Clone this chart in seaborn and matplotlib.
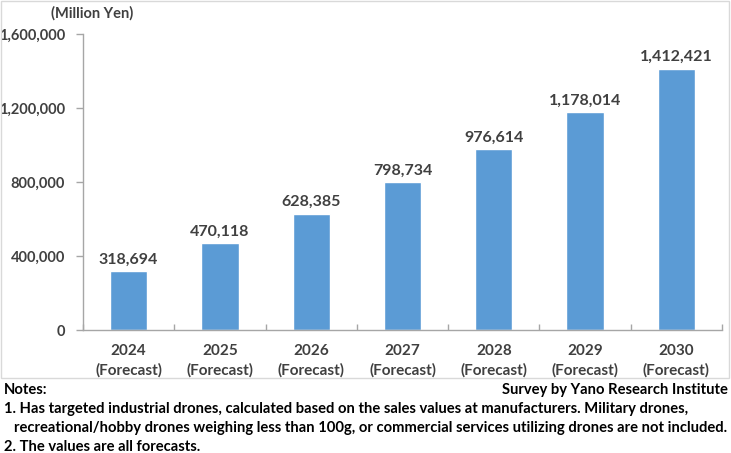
import numpy as np
import pandas as pd
import matplotlib
matplotlib.use("Agg")
import matplotlib.pyplot as plt
import seaborn as sns
from matplotlib.patches import Rectangle

# Chart data
years = ["2024", "2025", "2026", "2027", "2028", "2029", "2030"]
tick_labels = [y + "\n(Forecast)" for y in years]
market_size = [318694, 470118, 628385, 798734, 976614, 1178014, 1412421]
y_ticks = [0, 400000, 800000, 1200000, 1600000]

df = pd.DataFrame({"year": years, "value": market_size})

sns.set_style("white")
plt.rcParams['font.family'] = ['Lato', 'DejaVu Sans']
text_color = "#404040"
axis_color = "#a6a6a6"

fig = plt.figure(figsize=(7.31, 4.53), dpi=100)
ax = fig.add_axes([83 / 731, 1 - 330 / 453, (722 - 83) / 731, (330 - 34) / 453])

sns.barplot(data=df, x="year", y="value", color="#5b9bd5", width=0.41,
            saturation=1, ax=ax)

ax.set_ylim(0, 1600000)
ax.set_xlim(-0.5, len(years) - 0.5)
ax.set_yticks(y_ticks)
ax.set_yticklabels([f"{v:,}" for v in y_ticks], fontsize=10.5, fontweight="bold",
                   color=text_color)
ax.set_xticks(range(len(years)))
ax.set_xticklabels(tick_labels, fontsize=11, fontweight="bold", color=text_color,
                   linespacing=1.45)
ax.set_xlabel("")
ax.set_ylabel("")

for side in ["top", "right"]:
    ax.spines[side].set_visible(False)
for side in ["left", "bottom"]:
    ax.spines[side].set_color(axis_color)
    ax.spines[side].set_linewidth(1)

ax.tick_params(axis="y", direction="out", length=5, width=1, color=axis_color, pad=8, left=True)
ax.tick_params(axis="x", length=0, pad=10, bottom=True)
# category boundary ticks on the x axis
ax.set_xticks(np.arange(-0.5, len(years), 1), minor=True)
ax.tick_params(axis="x", which="minor", direction="in", length=4, width=1, color=axis_color,
               bottom=True)

for i, v in enumerate(market_size):
    ax.text(i, v + 25000, f"{v:,}", ha="center", va="bottom", fontsize=11.5,
            fontweight="bold", color=text_color)

ax.text(0.014, 1.045, "(Million Yen)", transform=ax.transAxes, ha="center", va="bottom",
        fontsize=10.5, fontweight="bold", color=text_color)

# chart frame
fig.patches.append(Rectangle((1 / 731, 1 - 378 / 453), 728 / 731, 377 / 453,
                             transform=fig.transFigure, fill=False,
                             edgecolor="#d9d9d9", linewidth=1))

note_size = 10.6
fig.text(4 / 731, 1 - 390 / 453, "Notes:", ha="left", va="center", fontsize=note_size,
         fontweight="bold", color="black")
fig.text(728 / 731, 1 - 390 / 453, "Survey by Yano Research Institute", ha="right",
         va="center", fontsize=note_size, fontweight="bold", color="black")
fig.text(4 / 731, 1 - 409 / 453,
         "1. Has targeted industrial drones, calculated based on the sales values at manufacturers. Military drones,",
         ha="left", va="center", fontsize=note_size, fontweight="bold", color="black")
fig.text(14 / 731, 1 - 428 / 453,
         "recreational/hobby drones weighing less than 100g, or commercial services utilizing drones are not included.",
         ha="left", va="center", fontsize=note_size, fontweight="bold", color="black")
fig.text(4 / 731, 1 - 447 / 453, "2. The values are all forecasts.", ha="left",
         va="center", fontsize=note_size, fontweight="bold", color="black")

fig.savefig("out.png", dpi=100)
